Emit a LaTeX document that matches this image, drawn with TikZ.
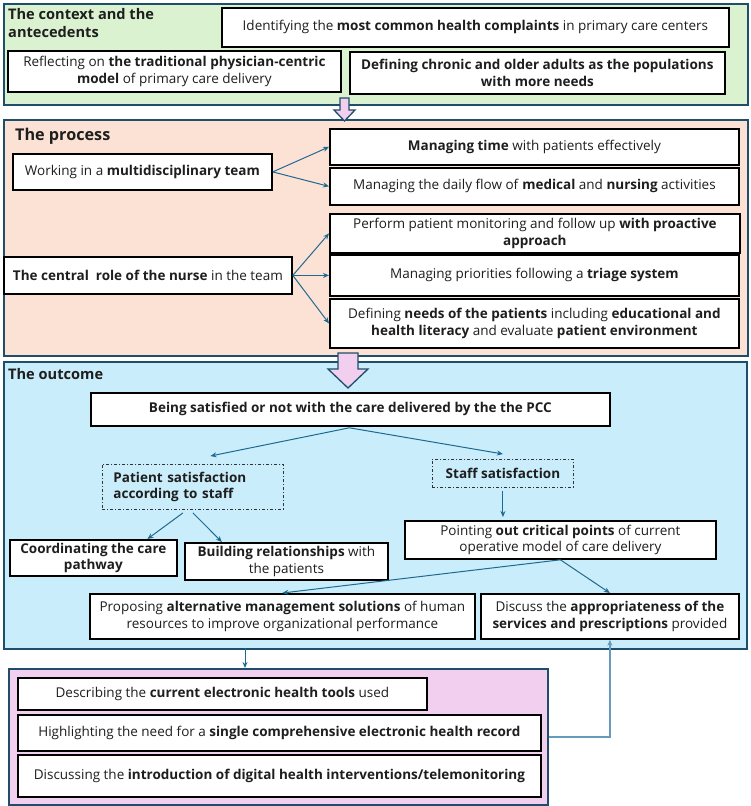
\documentclass[tikz,border=0pt]{standalone}
\usepackage{fontspec}
\setmainfont{Open Sans}
\usetikzlibrary{arrows.meta,calc}
\definecolor{gfill}{RGB}{218,242,208}
\definecolor{pfill}{RGB}{251,226,213}
\definecolor{bfill}{RGB}{202,237,251}
\definecolor{mfill}{RGB}{242,206,239}
\definecolor{secline}{RGB}{30,78,105}
\definecolor{arr}{RGB}{31,105,145}
\definecolor{arrlight}{RGB}{100,155,190}
\definecolor{txt}{RGB}{30,30,30}
\begin{document}
\begin{tikzpicture}[x=1pt,y=-1pt,
  section/.style={draw=secline,line width=1.8pt,inner sep=0pt,anchor=north west},
  box/.style={draw=black,line width=1.8pt,fill=white,inner sep=0pt,anchor=north west,align=center,font=\fontsize{13.5}{16.5}\selectfont,text=txt},
  dbox/.style={draw=black!80,line width=0.9pt,dash pattern=on 3pt off 2pt on 1pt off 2pt,inner ysep=0pt,inner xsep=11pt,anchor=north west,align=left,font=\fontsize{13.5}{16.5}\selectfont\bfseries,text=txt},
  conn/.style={draw=arr,line width=1pt,-{Stealth[length=6pt,width=5pt]}},
  connlight/.style={draw=arrlight,line width=1.2pt,-{Stealth[length=6pt,width=5pt]}},
  title/.style={anchor=base west,inner sep=0pt,font=\fontsize{14.6}{17.5}\selectfont\bfseries,align=left,text=txt},
  blockarrow/.style={fill=mfill,draw=secline,line width=1.3pt,line join=miter}
]
\useasboundingbox (0,0) rectangle (750,806);
% sections
\node[section,fill=gfill,minimum width=744pt,minimum height=101pt] (green) at (3,3) {};
\node[section,fill=pfill,minimum width=744pt,minimum height=236pt] (process) at (3,119) {};
\node[section,fill=bfill,minimum width=743pt,minimum height=287pt] (outcome) at (3,361) {};
\node[section,fill=mfill,minimum width=539pt,minimum height=136pt] (pink) at (8,668) {};
% titles
\node[title] (t1) at (8,37) {The context and the\\antecedents};
\node[title,font=\fontsize{16.2}{18}\selectfont\bfseries] (t2) at (15,140.5) {The process};
\node[title] (t3) at (8,379) {The outcome};
% context boxes
\node[box,minimum width=507pt,minimum height=39pt] (ident) at (221,7) {Identifying the \textbf{most common health complaints} in primary care centers};
\node[box,minimum width=333pt,minimum height=41pt] (reflect) at (7,50) {Reflecting on \textbf{the traditional physician-centric}\\\textbf{model} of primary care delivery};
\node[box,minimum width=375pt,minimum height=42pt,font=\fontsize{13.5}{16.5}\selectfont\bfseries] (defchron) at (349,51) {Defining chronic and older adults as the populations\\with more needs};
% process boxes
\node[box,minimum width=259pt,minimum height=36pt] (multi) at (12,153) {Working in a \textbf{multidisciplinary team}};
\node[box,minimum width=409pt,minimum height=36pt] (mtime) at (329,128) {\textbf{Managing time} with patients effectively};
\node[box,minimum width=409pt,minimum height=37pt] (mflow) at (329,167) {Managing the daily flow of \textbf{medical} and \textbf{nursing} activities};
\node[box,minimum width=410pt,minimum height=39pt] (perform) at (329,213) {Perform patient monitoring and follow up \textbf{with proactive}\\\textbf{approach}};
\node[box,minimum width=409pt,minimum height=41pt] (prio) at (329,254) {Managing priorities following a \textbf{triage system}};
\node[box,minimum width=409pt,minimum height=49pt] (needs) at (329,298) {Defining \textbf{needs of the patients} including \textbf{educational and}\\\textbf{health literacy} and evaluate \textbf{patient environment}};
\node[box,minimum width=288pt,minimum height=37pt] (nurse) at (3,256) {\textbf{The central\ \ role of the nurse} in the team};
% outcome boxes
\node[box,minimum width=519pt,minimum height=33pt,font=\fontsize{13.5}{16.5}\selectfont\bfseries] (satisfied) at (90,392) {Being satisfied or not with the care delivered by the the PCC};
\node[dbox,text width=159pt,minimum height=45pt] (patsat) at (102,464) {Patient satisfaction\\according to staff};
\node[dbox,inner xsep=0pt,align=center,minimum width=141pt,minimum height=28pt] (staffsat) at (432,459) {Staff satisfaction};
\node[box,minimum width=167pt,minimum height=36pt,font=\fontsize{13.5}{16.5}\selectfont\bfseries] (coord) at (9,539) {Coordinating the care\\pathway};
\node[box,minimum width=203pt,minimum height=37pt] (build) at (184,542) {\textbf{Building relationships} with\\the patients};
\node[box,minimum width=311pt,minimum height=38pt] (pointing) at (404,520) {Pointing \textbf{out critical points} of current\\operative model of care delivery};
\node[box,minimum width=385pt,minimum height=45pt] (propose) at (89,593) {Proposing \textbf{alternative management solutions} of human\\resources to improve organizational performance};
\node[box,minimum width=258pt,minimum height=45pt] (discuss) at (480,593) {Discuss the \textbf{appropriateness of the}\\\textbf{services and prescriptions} provided};
% pink boxes
\node[box,minimum width=409pt,minimum height=32pt] (describe) at (17,677) {Describing the \textbf{current electronic health tools} used};
\node[box,minimum width=523pt,minimum height=36pt] (highlight) at (17,714) {Highlighting the need for a \textbf{single comprehensive electronic health record}};
\node[box,minimum width=523pt,minimum height=42pt] (digital) at (17,754) {Discussing the \textbf{introduction of digital health interventions/telemonitoring}};
% block arrows
\draw[blockarrow] (340,98) -- (349,98) -- (349,110) -- (355,110) -- (344.5,121) -- (334,110) -- (340,110) -- cycle;
\draw[blockarrow] (338,353) -- (358,353) -- (358,369) -- (368,369) -- (348,388) -- (328,369) -- (338,369) -- cycle;
% connectors
\draw[conn] (multi.east) -- (mtime.west);
\draw[conn] (multi.east) -- (mflow.west);
\draw[conn] (nurse.east) -- (perform.west);
\draw[conn] (nurse.east) -- (prio.west);
\draw[conn] (nurse.east) -- (needs.west);
\draw[conn] ([xshift=-1pt,yshift=-1pt]satisfied.south) -- ($(patsat.north)+(17.5,-8)$);
\draw[conn] ([xshift=-1pt,yshift=-1pt]satisfied.south) -- ($(staffsat.north)+(0,-5)$);
\draw[conn] ([yshift=-3pt]staffsat.south) -- ([yshift=3pt]staffsat.south |- pointing.north);
\draw[conn] ([xshift=-10pt,yshift=-3pt]patsat.south) -- ([xshift=54pt]coord.north);
\draw[conn] ([yshift=-3pt]patsat.south) -- ([xshift=-64.5pt]build.north);
\draw[conn] (pointing.south) -- (propose.north);
\draw[conn] (pointing.south) -- (discuss.north);
\coordinate (c1) at (245,648);
\draw[conn] (c1) -- (c1 |- pink.north);
\draw[connlight] (pink.east) -| (discuss.south);
\end{tikzpicture}
\end{document}
